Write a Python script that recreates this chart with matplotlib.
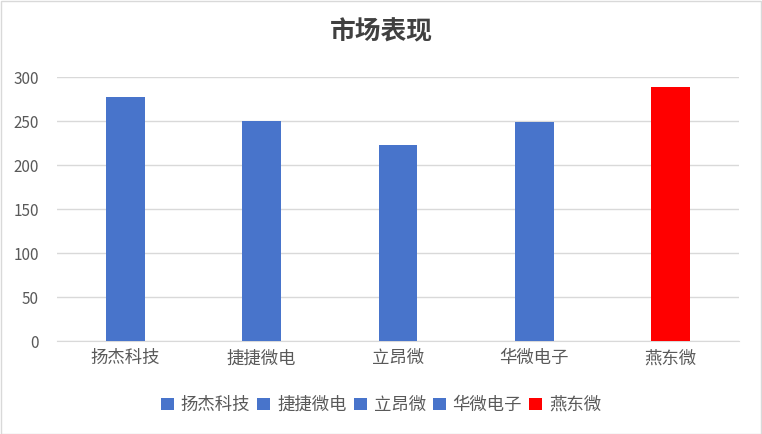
import matplotlib
matplotlib.use("Agg")
import matplotlib.pyplot as plt
from matplotlib.patches import Patch, Rectangle

plt.rcParams['font.family'] = ['Noto Sans CJK SC', 'DejaVu Sans']

categories = ['扬杰科技', '捷捷微电', '立昂微', '华微电子', '燕东微']
values = [277, 250, 223, 249, 289]
colors = ['#4874CB', '#4874CB', '#4874CB', '#4874CB', '#FF0000']
title = '市场表现'
yticks = [0, 50, 100, 150, 200, 250, 300]

W, H = 762, 434
fig = plt.figure(figsize=(W / 100, H / 100), dpi=100)
fig.patch.set_facecolor('white')
fig.add_artist(Rectangle((0.5 / W, 0.5 / H), 1 - 1.5 / W, 1 - 1.5 / H, transform=fig.transFigure,
                         fill=False, edgecolor='#D9D9D9', linewidth=1))

ax = fig.add_axes([57 / W, 93 / H, (739 - 57) / W, (341 - 77) / H])
x = list(range(len(categories)))
ax.bar(x, values, width=0.285, color=colors, zorder=3)
ax.set_xlim(-0.5, len(categories) - 0.5)
ax.set_ylim(0, 300)
ax.set_yticks(yticks)
ax.yaxis.grid(True, color='#D9D9D9', linewidth=1, zorder=0)
ax.set_xticks(x)
ax.set_xticklabels(categories, fontsize=12.5, color='#595959')
ax.tick_params(axis='y', labelsize=11, colors='#595959', length=0, pad=13)
ax.tick_params(axis='x', length=0, pad=6)
for s in ['top', 'right', 'left']:
    ax.spines[s].set_visible(False)
ax.spines['bottom'].set_color('#D9D9D9')

fig.text(0.5, 1 - 32 / H, title, ha='center', va='center', fontsize=18.5, color='#404040',
         fontweight='bold')

handles = [Patch(facecolor=c) for c in colors]
fig.legend(handles, categories, loc='center', bbox_to_anchor=(0.5, 1 - 405 / H), ncol=5,
           frameon=False, fontsize=12.5, labelcolor='#595959', handlelength=0.75, handleheight=0.75,
           handletextpad=0.4, columnspacing=0.4)

fig.savefig('out.png', dpi=100, facecolor='white')
